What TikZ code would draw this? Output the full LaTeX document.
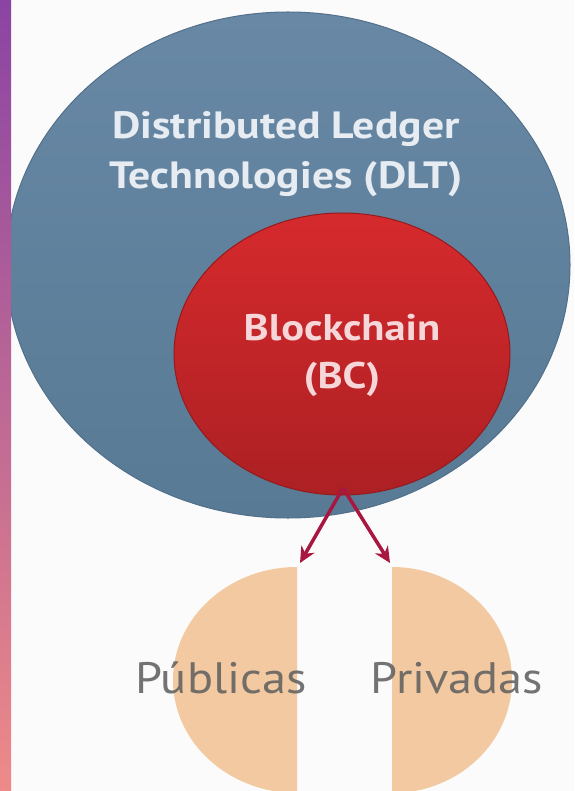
\documentclass[tikz,border=0pt]{standalone}
\usepackage{fontspec}
\usetikzlibrary{arrows.meta,shapes.geometric}
\newfontfamily\ptwide[FakeStretch=1.15]{PT Sans}
\newfontfamily\ptlow[FakeStretch=1.1]{PT Sans}
\definecolor{bgc}{HTML}{FBFBFC}
\definecolor{stripTop}{HTML}{8A44A3}
\definecolor{stripBot}{HTML}{EE8A88}
\definecolor{dltTop}{HTML}{6888A5}
\definecolor{dltBot}{HTML}{587A94}
\definecolor{dltEdge}{HTML}{52708A}
\definecolor{bcTop}{HTML}{D62A2D}
\definecolor{bcBot}{HTML}{AC2023}
\definecolor{bcEdge}{HTML}{951A1D}
\definecolor{peach}{HTML}{F2C9A0}
\definecolor{arrowc}{HTML}{A8173F}
\definecolor{dltText}{HTML}{E6ECF2}
\definecolor{bcText}{HTML}{F6D6D8}
\definecolor{lowText}{HTML}{666463}
\tikzset{
  setblob/.style={ellipse, inner sep=0pt, line width=1pt},
  circtext/.style={align=center, inner sep=0pt},
  lowlabel/.style={font=\ptlow\fontsize{44}{50}\selectfont, text=lowText, text opacity=0.9, inner sep=0pt, anchor=base},
  splitarrow/.style={draw=arrowc, line width=3.5pt, -{Stealth[length=16pt,width=15pt]}},
}
\begin{document}
\begin{tikzpicture}[x=1pt,y=-1pt]
\useasboundingbox (0,0) rectangle (574,791);
\fill[bgc] (0,0) rectangle (574,791);
% outer ellipse DLT
\node[setblob, minimum width=564pt, minimum height=506pt, top color=dltTop, bottom color=dltBot, draw=dltEdge] (dlt) at (288,265) {};
% inner ellipse BC
\node[setblob, minimum width=336pt, minimum height=282pt, top color=bcTop, bottom color=bcBot, draw=bcEdge] (bc) at (342,354) {};
% texts
\node[circtext, text=dltText, font=\ptwide\bfseries\fontsize{38}{50}\selectfont] (dlttext) at (286,154)
  {Distributed Ledger\\Technologies (DLT)};
\node[circtext, text=bcText, font=\ptwide\bfseries\fontsize{37}{48}\selectfont] (bctext) at (342,355.5)
  {Blockchain\\(BC)};
% half circles
\begin{scope}
  \clip (150,540) rectangle (297,791);
  \fill[peach] (297,680) ellipse [x radius=124, y radius=113];
\end{scope}
\begin{scope}
  \clip (392,540) rectangle (560,791);
  \fill[peach] (392,680) ellipse [x radius=120, y radius=113];
\end{scope}
% arrows
\coordinate (split) at (343,488);
\coordinate (pubtop) at (300,563);
\coordinate (privtop) at (390,563);
\draw[splitarrow] (split) -- (pubtop);
\draw[splitarrow] (split) -- (privtop);
% labels
\node[lowlabel] (pub) at (221,693) {Públicas};
\node[lowlabel] (priv) at (457,693) {Privadas};
% left strip
\shade[top color=stripTop, bottom color=stripBot] (0,0) rectangle (11,791);
\end{tikzpicture}
\end{document}
